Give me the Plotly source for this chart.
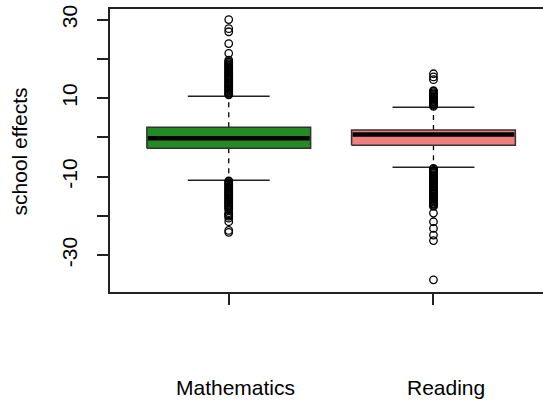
import plotly.graph_objects as go

# ---- data ----
subjects = ["Mathematics", "Reading"]
box_colors = ["#228B22", "#F08080"]
q1 = [-2.8, -2.0]
median = [-0.2, 0.7]
q3 = [2.6, 1.9]
lower_whisker = [-10.9, -7.6]
upper_whisker = [10.5, 7.7]

math_outliers_high = [10.8, 11.0, 11.3, 11.5, 11.8, 12.1, 12.3, 12.6, 12.9, 13.1, 13.4, 13.7,
                      13.9, 14.2, 14.5, 14.8, 15.0, 15.3, 15.6, 15.8, 16.1, 16.4, 16.6, 16.9,
                      17.2, 17.5, 17.7, 18.0, 18.3, 18.5, 18.8, 19.1, 19.3, 19.7, 21.4, 23.9,
                      26.9, 27.7, 30.0]
math_outliers_low = [-11.1, -11.3, -11.6, -11.9, -12.1, -12.4, -12.7, -13.0, -13.2, -13.5,
                     -13.8, -14.0, -14.3, -14.6, -14.8, -15.1, -15.4, -15.7, -15.9, -16.2,
                     -16.5, -16.7, -17.0, -17.3, -17.5, -17.8, -18.1, -18.4, -19.2, -19.5,
                     -19.8, -20.1, -20.6, -21.5, -23.7, -24.2]
read_outliers_high = [7.9, 8.2, 8.4, 8.7, 9.0, 9.2, 9.5, 9.8, 10.1, 10.3, 10.6, 10.9, 11.1,
                      11.4, 11.7, 11.9, 14.7, 15.4, 16.2]
read_outliers_low = [-7.9, -8.1, -8.4, -8.7, -8.9, -9.2, -9.5, -9.8, -10.0, -10.3, -10.6,
                     -10.8, -11.1, -11.4, -11.6, -11.9, -12.2, -12.5, -12.7, -13.0, -13.3,
                     -13.5, -13.8, -14.1, -14.3, -14.6, -14.9, -15.2, -15.4, -15.7, -16.0,
                     -16.2, -16.5, -16.8, -17.0, -17.3, -17.6, -19.3, -21.5, -23.2, -24.9,
                     -26.3, -36.3]
outliers = [math_outliers_high + math_outliers_low, read_outliers_high + read_outliers_low]

y_tick_values = [-30, -20, -10, 0, 10, 20, 30]
y_tick_labels = ["-30", "", "-10", "", "10", "", "30"]

FONT = "Liberation Sans, Arial, sans-serif"
BOX_W = 0.8
fig = go.Figure()

for i, name in enumerate(subjects):
    x = i + 1
    l, r = x - BOX_W / 2, x + BOX_W / 2
    # dashed whiskers
    fig.add_trace(go.Scatter(
        x=[x, x, None, x, x], y=[q3[i], upper_whisker[i], None, q1[i], lower_whisker[i]],
        mode="lines", line=dict(color="black", width=1.3, dash="5px,5px"),
        showlegend=False, hoverinfo="skip"))
    # staples
    fig.add_trace(go.Scatter(
        x=[x - BOX_W / 4, x + BOX_W / 4, None, x - BOX_W / 4, x + BOX_W / 4],
        y=[upper_whisker[i], upper_whisker[i], None, lower_whisker[i], lower_whisker[i]],
        mode="lines", line=dict(color="#222", width=1.5),
        showlegend=False, hoverinfo="skip"))
    # box body
    fig.add_trace(go.Scatter(
        x=[l, r, r, l, l], y=[q1[i], q1[i], q3[i], q3[i], q1[i]],
        mode="lines", fill="toself", fillcolor=box_colors[i],
        line=dict(color="#333", width=1.5), name=name, showlegend=False))
    # median
    fig.add_trace(go.Scatter(
        x=[l + 0.005, r - 0.005], y=[median[i], median[i]], mode="lines",
        line=dict(color="black", width=4.5), showlegend=False, hoverinfo="skip"))
    # outliers
    fig.add_trace(go.Scatter(
        x=[x] * len(outliers[i]), y=outliers[i], mode="markers",
        marker=dict(symbol="circle-open", size=7.5, color="black", line=dict(width=1.3)),
        showlegend=False))

# category labels below the axis
label_x = [1.032, 2.061]
for i, name in enumerate(subjects):
    fig.add_annotation(x=label_x[i], xref="x", y=-0.338, yref="paper", text=name,
                       showarrow=False, xanchor="center", yanchor="middle",
                       font=dict(family=FONT, size=21, color="black"))

fig.add_annotation(x=-0.208, xref="paper", y=0.4965, yref="paper", text="school effects",
                   textangle=-90, showarrow=False, xanchor="center", yanchor="middle",
                   font=dict(family=FONT, size=21, color="black"))

fig.update_layout(
    width=543, height=400,
    margin=dict(l=109.5, r=0, t=9, b=108),
    paper_bgcolor="white", plot_bgcolor="white",
    font=dict(family=FONT, size=21, color="black"),
    xaxis=dict(range=[0.42, 2.535], showgrid=False, zeroline=False,
               showline=True, mirror=True, linecolor="#222", linewidth=1.5,
               tickvals=[1, 2], ticktext=["", ""], ticks="outside", ticklen=11,
               tickwidth=1.5, tickcolor="#222"),
    yaxis=dict(range=[-39.4, 32.7], showgrid=False, zeroline=False,
               showline=True, linecolor="#222", linewidth=1.5,
               tickvals=y_tick_values, ticktext=y_tick_labels, tickangle=-90,
               ticks="outside", ticklen=11, tickwidth=1.5, tickcolor="#222",
               ticklabelstandoff=12, ticklabeloverflow="allow",
               tickfont=dict(family=FONT, size=21, color="black")),
)

# remove the default 8px page margin so the figure sits at the window's corner
fig.write_html("out.html",
               config={"displayModeBar": False},
               post_script="document.body.style.margin='0';document.body.style.overflow='hidden';")
